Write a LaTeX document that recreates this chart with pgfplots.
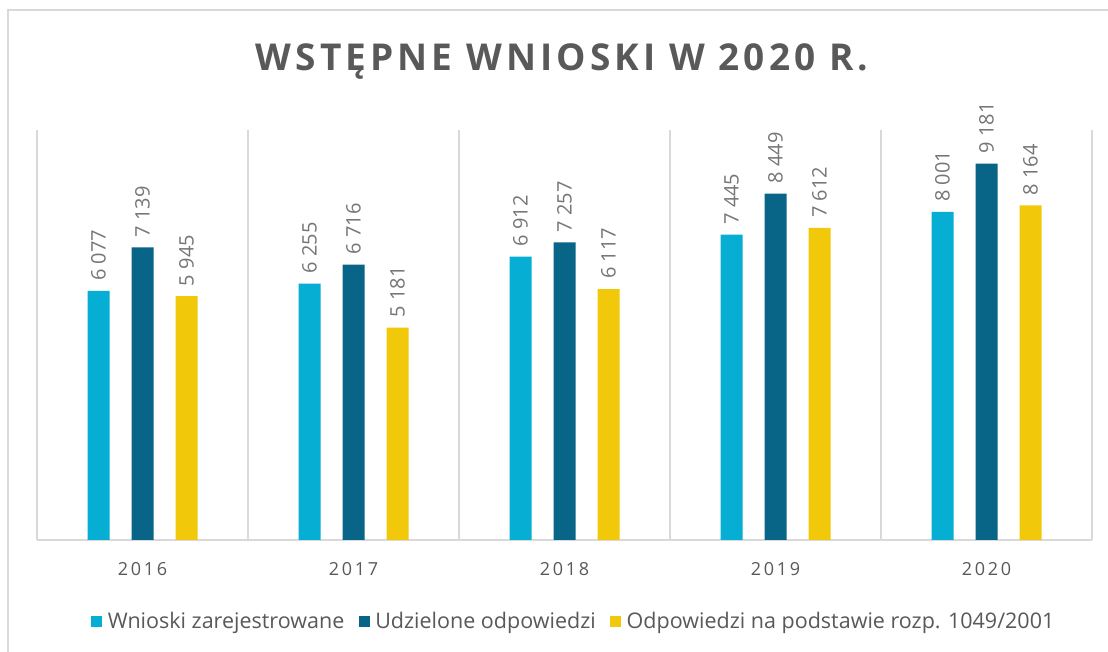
\documentclass[border=0pt]{standalone}
\usepackage{fontspec}
\setmainfont{Open Sans}
\usepackage{pgfplots}
\pgfplotsset{compat=1.18}
\definecolor{cA}{RGB}{7,174,212}
\definecolor{cB}{RGB}{9,101,135}
\definecolor{cC}{RGB}{241,200,10}
\definecolor{gridc}{RGB}{217,217,217}
\definecolor{txt}{RGB}{89,89,89}
\definecolor{lbl}{RGB}{118,118,118}
\begin{document}
\begin{tikzpicture}[x=1pt,y=1pt]
\useasboundingbox (0,0) rectangle (1108,652);
\fill[white] (0,0) rectangle (1108,652);
\draw[gridc, line width=1.5pt] (8,-10) -- (8,642) -- (1120,642);
\node[txt, font=\fontsize{37}{44}\selectfont\bfseries\addfontfeatures{LetterSpace=11}] at (562,590) {WSTĘPNE WNIOSKI W 2020 R.};
\begin{axis}[
  at={(37pt,112pt)}, anchor=south west, scale only axis,
  width=1055pt, height=410pt,
  ybar=22pt, bar width=22pt,
  xmin=-0.5, xmax=4.5, ymin=0, ymax=10000,
  xtick={0,1,2,3,4}, xticklabels={2016,2017,2018,2019,2020},
  minor xtick={-0.5,0.5,1.5,2.5,3.5,4.5},
  xminorgrids, minor grid style={gridc, line width=1.3pt},
  ytick=\empty,
  axis x line*=bottom, axis y line=none,
  x axis line style={gridc, line width=1.5pt, -},
  major tick length=0pt, minor tick length=0pt,
  tick style={draw=none},
  xticklabel style={txt, anchor=base, yshift=-36pt, font=\fontsize{18}{22}\selectfont\addfontfeatures{LetterSpace=15}},
  /pgf/number format/1000 sep={\ },
  /pgf/number format/assume math mode=true,
  nodes near coords,
  nodes near coords style={rotate=90, anchor=west, text=lbl, inner xsep=10pt, inner ysep=0pt, font=\fontsize{20}{24}\selectfont},
  legend style={at={(0.5105,-0.1976)}, anchor=center, draw=none, fill=none,
    legend columns=-1, font=\fontsize{21.5}{26}\selectfont, text=txt,
    /tikz/every even column/.append style={column sep=9pt},
    nodes={inner xsep=5.5pt}},
  legend image code/.code={\path[#1] (0pt,-5.5pt) rectangle (11pt,5.5pt);},
]
\addplot[fill=cA, draw=none] coordinates {(0,6077) (1,6255) (2,6912) (3,7445) (4,8001)};
\addplot[fill=cB, draw=none] coordinates {(0,7139) (1,6716) (2,7257) (3,8449) (4,9181)};
\addplot[fill=cC, draw=none] coordinates {(0,5945) (1,5181) (2,6117) (3,7612) (4,8164)};
\legend{Wnioski zarejestrowane, Udzielone odpowiedzi, Odpowiedzi na podstawie rozp. 1049/2001}
\end{axis}
\end{tikzpicture}
\end{document}
